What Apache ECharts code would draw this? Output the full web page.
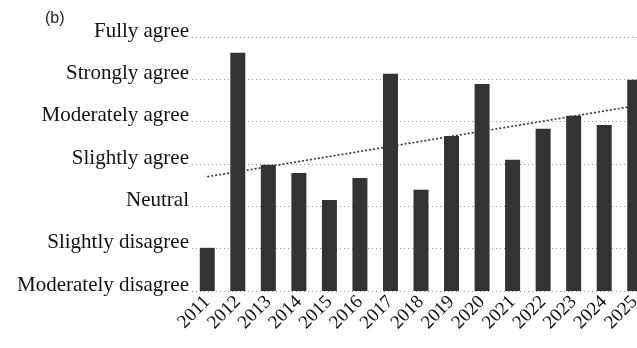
<!DOCTYPE html>
<html>
<head>
<meta charset="utf-8">
<script src="https://cdn.jsdelivr.net/npm/echarts@6/dist/echarts.min.js"></script>
<style>
  html, body { margin: 0; padding: 0; background: #fff; }
  #chart { width: 637px; height: 348px; }
</style>
</head>
<body>
<div id="chart"></div>
<script>
// Survey years along the x axis
const years = ['2011','2012','2013','2014','2015','2016','2017','2018',
               '2019','2020','2021','2022','2023','2024','2025'];

// Agreement scale, 0 = Moderately disagree ... 6 = Fully agree
const levels = ['Moderately disagree','Slightly disagree','Neutral',
                'Slightly agree','Moderately agree','Strongly agree','Fully agree'];

// Mean agreement score per year
const scores = [1.02, 5.63, 2.98, 2.79, 2.15, 2.67, 5.13, 2.39,
                3.66, 4.89, 3.10, 3.83, 4.14, 3.92, 4.99];

// Linear trend, value at the first and last year
const trendEnds = [2.70, 4.37];

const serif = '"Liberation Serif", "DejaVu Serif", serif';

const chart = echarts.init(document.getElementById('chart'), null, { renderer: 'canvas' });

chart.setOption({
  animation: false,
  backgroundColor: '#fff',
  title: {
    text: '(b)',
    left: 40,
    top: 6,
    textStyle: { fontFamily: '"Liberation Sans", Arial, sans-serif', fontSize: 16, fontWeight: 'normal', color: '#222' }
  },
  grid: { left: 192, top: 37, width: 458, height: 254, containLabel: false, outerBoundsMode: 'none' },
  xAxis: {
    type: 'category',
    data: years,
    axisLine: { show: false },
    axisTick: { show: false },
    axisLabel: {
      interval: 0,
      hideOverlap: false,
      rotate: 45,
      margin: 8,
      fontFamily: serif,
      fontSize: 19,
      color: '#111'
    }
  },
  yAxis: {
    type: 'value',
    min: 0,
    max: 6,
    interval: 1,
    axisLine: { show: false },
    axisTick: { show: false },
    axisLabel: {
      margin: 3,
      fontFamily: serif,
      fontSize: 21,
      color: '#111',
      verticalAlign: 'bottom',
      lineHeight: 12,
      formatter: v => levels[v] || ''
    },
    splitLine: {
      show: true,
      lineStyle: { color: '#999', type: [1, 3], width: 1 }
    }
  },
  series: [{
    type: 'bar',
    data: scores,
    barWidth: 15,
    itemStyle: { color: '#333' },
    markLine: {
      silent: true,
      symbol: ['none', 'none'],
      label: { show: false },
      lineStyle: { color: '#333', type: [2, 2], width: 1.6 },
      data: [[
        { coord: [years[0], trendEnds[0]] },
        { coord: [years[years.length - 1], trendEnds[1]] }
      ]]
    }
  }]
});
</script>
</body>
</html>
